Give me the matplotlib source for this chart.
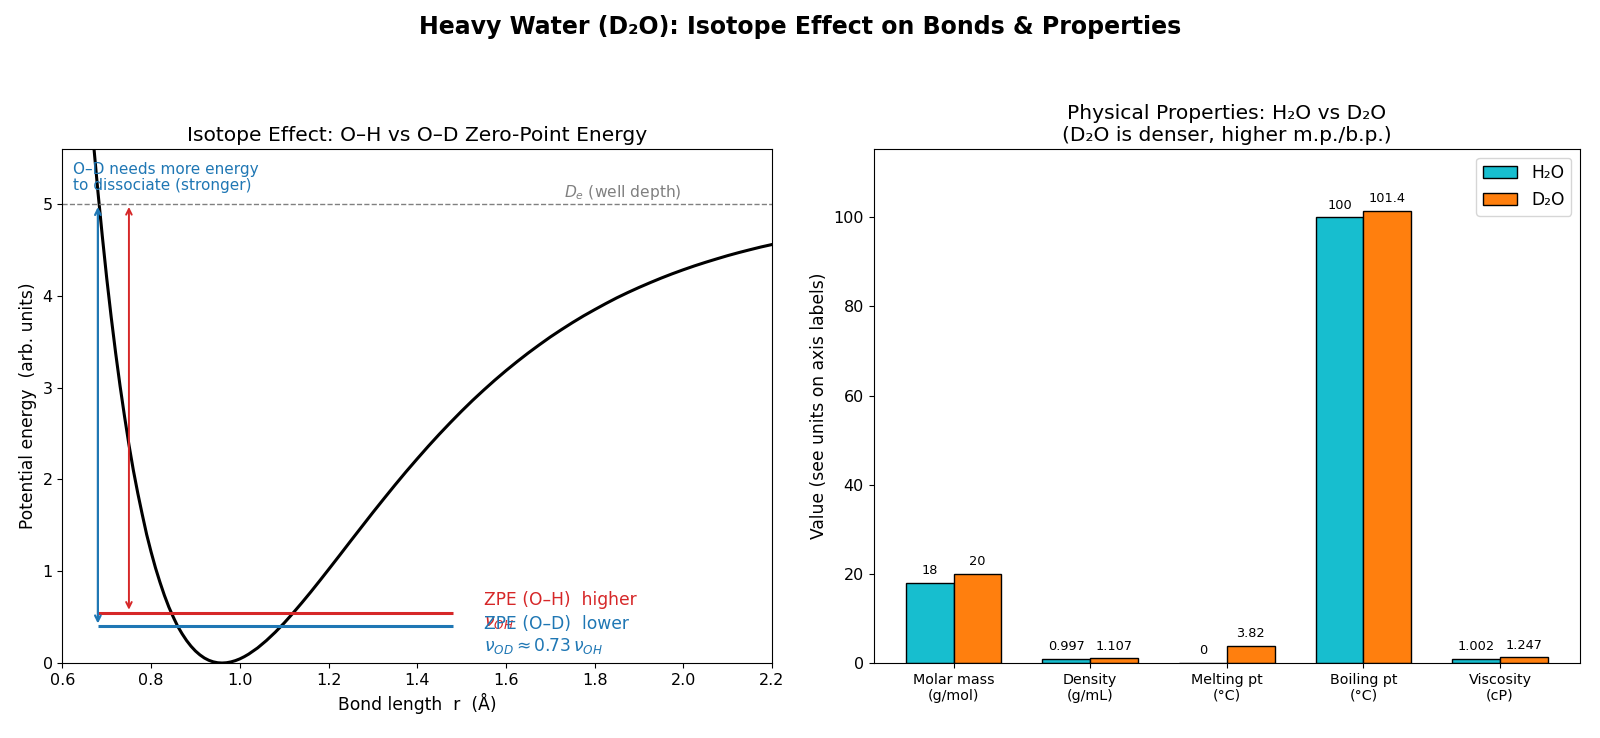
import matplotlib.pyplot as plt
import numpy as np

# potential curve (r in Angstrom, energy in arb. units)
r_pts = [0.66, 0.67, 0.68, 0.69, 0.70, 0.71, 0.72, 0.73, 0.74, 0.75, 0.76, 0.77, 0.78,
         0.79, 0.80, 0.81, 0.82, 0.83, 0.84, 0.85, 0.86, 0.87, 0.88, 0.89, 0.90, 0.91,
         0.92, 0.93, 0.94, 0.95, 0.96, 0.97, 0.98, 0.99, 1.00, 1.01, 1.02, 1.04, 1.06,
         1.08, 1.10, 1.12, 1.14, 1.16, 1.18, 1.20, 1.225, 1.25, 1.275, 1.30, 1.325, 1.35,
         1.375, 1.40, 1.425, 1.45, 1.475, 1.50, 1.525, 1.55, 1.575, 1.60, 1.625, 1.65,
         1.675, 1.70, 1.725, 1.75, 1.775, 1.80, 1.825, 1.85, 1.875, 1.90, 1.925, 1.95,
         1.975, 2.00, 2.025, 2.05, 2.075, 2.10, 2.125, 2.15, 2.175, 2.20]
v_pts = [6.24, 5.67, 5.14, 4.65, 4.19, 3.77, 3.38, 3.02, 2.69, 2.38, 2.10, 1.85, 1.62,
         1.40, 1.21, 1.035, 0.88, 0.737, 0.61, 0.501, 0.40, 0.318, 0.245, 0.183, 0.131, 0.089,
         0.055, 0.030, 0.013, 0.003, 0.0, 0.003, 0.012, 0.026, 0.045, 0.069, 0.097, 0.164, 0.245,
         0.336, 0.436, 0.544, 0.657, 0.774, 0.895, 1.018, 1.173, 1.330, 1.485, 1.640, 1.791, 1.940,
         2.085, 2.225, 2.362, 2.494, 2.621, 2.744, 2.862, 2.974, 3.082, 3.185, 3.283, 3.377,
         3.466, 3.552, 3.632, 3.709, 3.782, 3.850, 3.916, 3.979, 4.037, 4.092, 4.144, 4.194,
         4.241, 4.285, 4.327, 4.366, 4.403, 4.439, 4.472, 4.503, 4.533, 4.560]
De = 5.0
zpe_oh = 0.55
zpe_od = 0.40

# bar chart data
props = ['Molar mass\n(g/mol)', 'Density\n(g/mL)', 'Melting pt\n(°C)', 'Boiling pt\n(°C)', 'Viscosity\n(cP)']
h2o = [18, 0.997, 0, 100, 1.002]
d2o = [20, 1.107, 3.82, 101.4, 1.247]
h2o_lbl = ['18', '0.997', '0', '100', '1.002']
d2o_lbl = ['20', '1.107', '3.82', '101.4', '1.247']

fig = plt.figure(figsize=(16, 7.38), dpi=100)
ax1 = fig.add_axes([0.039, 0.1016, 0.4435, 0.6964])
ax2 = fig.add_axes([0.546, 0.1016, 0.4415, 0.6964])

fig.suptitle('Heavy Water (D₂O): Isotope Effect on Bonds & Properties',
             fontsize=17, fontweight='bold', y=0.979)

# left panel
ax1.plot(r_pts, v_pts, color='black', lw=2.2)
ax1.axhline(De, color='gray', ls='--', lw=1)
ax1.text(1.73, De + 0.08, '$D_e$ (well depth)', color='gray', fontsize=11.2)
ax1.hlines(zpe_oh, 0.68, 1.48, color='#d62728', lw=2.2)
ax1.hlines(zpe_od, 0.68, 1.48, color='#1f77b4', lw=2.2)
ax1.annotate('', xy=(0.68, zpe_od), xytext=(0.68, De),
             arrowprops=dict(arrowstyle='<->', color='#1f77b4', lw=1.6))
ax1.annotate('', xy=(0.75, zpe_oh), xytext=(0.75, De),
             arrowprops=dict(arrowstyle='<->', color='#d62728', lw=1.4))
ax1.text(1.55, zpe_oh + 0.02, 'ZPE (O–H)  higher\n$\\nu_{OH}$', color='#d62728',
         fontsize=12.3, va='center')
ax1.text(1.55, zpe_od - 0.1, 'ZPE (O–D)  lower\n$\\nu_{OD} \\approx 0.73\\,\\nu_{OH}$',
         color='#1f77b4', fontsize=12.3, va='center')
ax1.text(0.015, 0.975, 'O–D needs more energy\nto dissociate (stronger)', color='#1f77b4',
         fontsize=11, va='top', linespacing=1.1, transform=ax1.transAxes)
ax1.set_xlim(0.6, 2.2)
ax1.set_ylim(0, 5.6)
ax1.set_xlabel('Bond length  r  (Å)', fontsize=12.3)
ax1.set_ylabel('Potential energy  (arb. units)', fontsize=12.3)
ax1.set_title('Isotope Effect: O–H vs O–D Zero-Point Energy', fontsize=14.6)
ax1.tick_params(labelsize=11.5)

# right panel
x = np.arange(len(props))
w = 0.35
b1 = ax2.bar(x - w / 2, h2o, w, color='#17becf', edgecolor='black', label='H₂O')
b2 = ax2.bar(x + w / 2, d2o, w, color='#ff7f0e', edgecolor='black', label='D₂O')
ax2.bar_label(b1, labels=h2o_lbl, padding=4, fontsize=9.3)
ax2.bar_label(b2, labels=d2o_lbl, padding=4, fontsize=9.3)
ax2.set_xticks(x)
ax2.set_xticklabels(props, fontsize=10.3)
ax2.set_ylim(0, 115.3)
ax2.set_ylabel('Value (see units on axis labels)', fontsize=12.3)
ax2.set_title('Physical Properties: H₂O vs D₂O\n(D₂O is denser, higher m.p./b.p.)', fontsize=14.6)
ax2.tick_params(axis='y', labelsize=11.5)
ax2.legend(loc='upper right', fontsize=12.3)

fig.savefig('out.png', dpi=100)
